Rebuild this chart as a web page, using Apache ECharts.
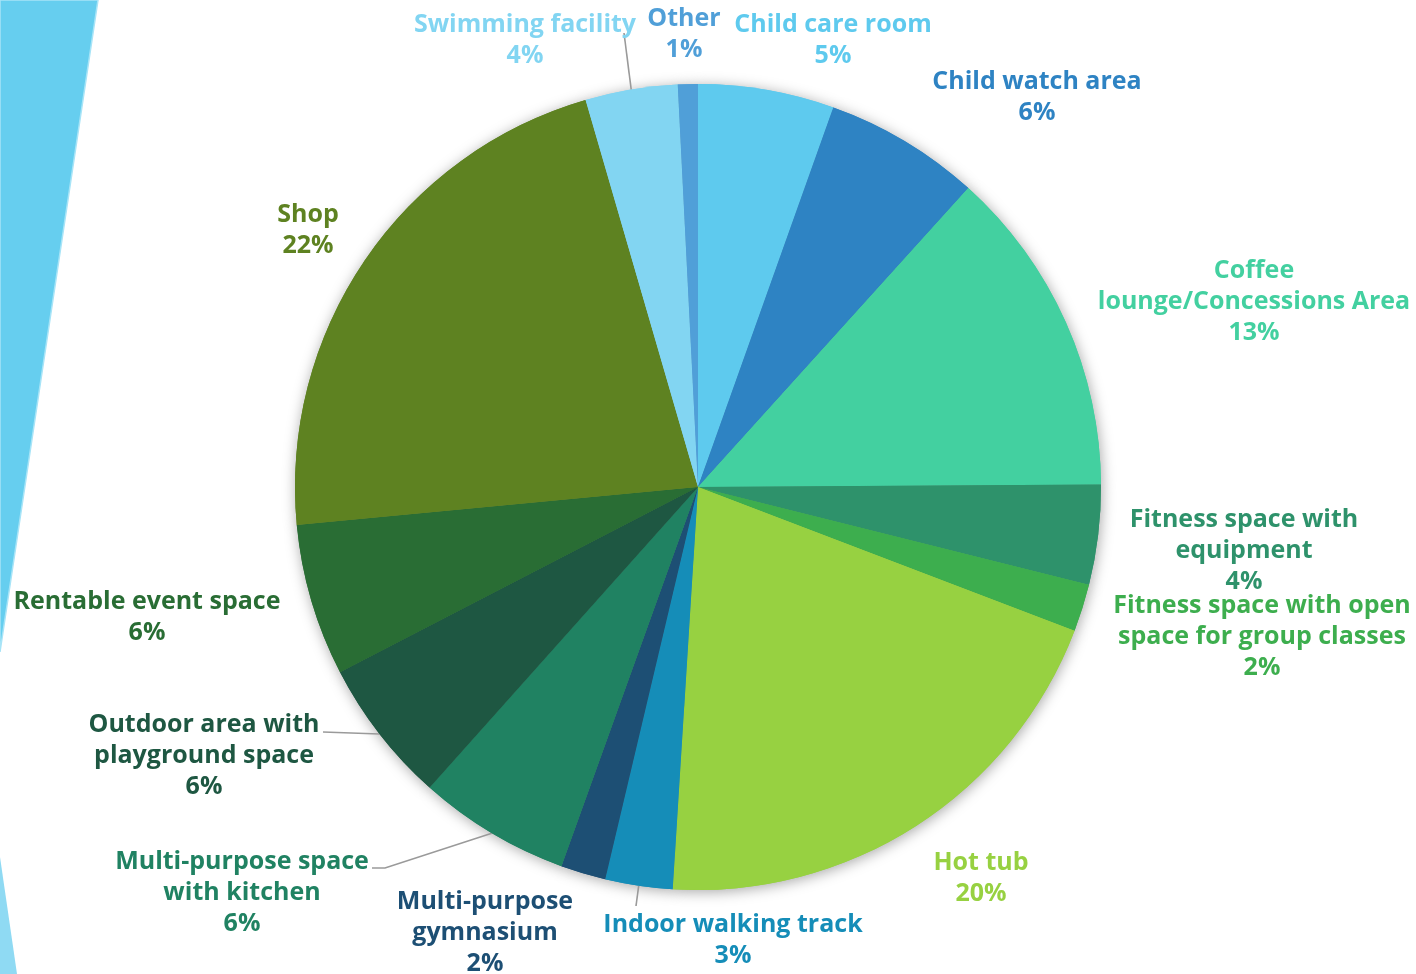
<!DOCTYPE html>
<html>
<head>
<meta charset="utf-8">
<script src="https://cdn.jsdelivr.net/npm/echarts@6/dist/echarts.min.js"></script>
<style>
html,body{margin:0;padding:0;background:#fff;}
#chart{width:1416px;height:974px;}
</style>
</head>
<body>
<div id="chart"></div>
<script>
// Categories (as printed, with the line breaks used in the labels)
const categories = [
  'Child care room',
  'Child watch area',
  'Coffee\nlounge/Concessions Area',
  'Fitness space with\nequipment',
  'Fitness space with open\nspace for group classes',
  'Hot tub',
  'Indoor walking track',
  'Multi-purpose\ngymnasium',
  'Multi-purpose space\nwith kitchen',
  'Outdoor area with\nplayground space',
  'Rentable event space',
  'Shop',
  'Swimming facility',
  'Other'
];
// Share of responses (%)
const shares = [5.45, 6.25, 13.2, 4.0, 1.9, 20.2, 2.7, 1.8, 6.1, 5.8, 6.1, 22.0, 3.7, 0.8];

// Styling (kept apart from the data)
const colors = ['#5ecaee', '#2e83c3', '#43d0a0', '#2e926b', '#3dae4e', '#97d141', '#158db8',
                '#1d4f74', '#208262', '#1e5742', '#296d34', '#5e8221', '#82d5f2', '#509fd8'];
const labelPos = [
  [833, 40], [1037, 97], [1254, 302], [1244, 551], [1262, 637], [981, 878], [733, 940],
  [485, 933], [242, 893], [204, 756], [147, 617], [308, 230], [525, 40], [684, 34]
];
const lineEnds = { 12: [[624, 33]], 9: [[323, 732]], 8: [[385, 868], [372, 868]], 6: [[636, 906]] };

const chart = echarts.init(document.getElementById('chart'));
const data = categories.map((n, i) => ({
  name: n,
  value: shares[i],
  itemStyle: { color: colors[i] },
  label: { color: colors[i] },
  labelLine: { show: lineEnds[i] !== undefined }
}));

chart.setOption({
  animation: false,
  backgroundColor: '#ffffff',
  graphic: [
    { type: 'polygon', shape: { points: [[0, 0], [98, 0], [0, 652]] }, style: { fill: '#66ceef', stroke: '#a8e4f7', lineWidth: 1.5 }, z: 0 },
    { type: 'polygon', shape: { points: [[0, 857], [17, 974], [0, 974]] }, style: { fill: '#8fdaf3' }, z: 0 }
  ],
  series: [
    {
      type: 'pie',
      silent: true,
      center: [698, 487],
      radius: 403,
      startAngle: 90,
      clockwise: true,
      z: 1,
      label: { show: false },
      labelLine: { show: false },
      itemStyle: { shadowBlur: 14, shadowColor: 'rgba(0,0,0,0.35)', shadowOffsetX: 1, shadowOffsetY: 2, borderWidth: 0 },
      data: categories.map((n, i) => ({ name: n, value: shares[i], itemStyle: { color: colors[i] } }))
    },
    {
      type: 'pie',
      center: [698, 487],
      radius: 403,
      startAngle: 90,
      clockwise: true,
      z: 2,
      avoidLabelOverlap: false,
      itemStyle: { borderWidth: 0 },
      label: {
        show: true,
        position: 'outside',
        fontFamily: 'Open Sans',
        fontWeight: 'bold',
        fontSize: 25,
        lineHeight: 31,
        align: 'center',
        formatter: p => p.name + '\n' + Math.round(p.percent) + '%'
      },
      labelLine: { show: false, lineStyle: { color: '#9a9a9a', width: 1.6 }, length: 10, length2: 10 },
      labelLayout: function (params) {
        const i = params.dataIndex;
        const res = { x: labelPos[i][0], y: labelPos[i][1], align: 'center', verticalAlign: 'middle' };
        if (lineEnds[i] && params.labelLinePoints) {
          res.labelLinePoints = [params.labelLinePoints[0]].concat(lineEnds[i]);
        }
        return res;
      },
      data: data
    }
  ]
});
</script>
</body>
</html>
